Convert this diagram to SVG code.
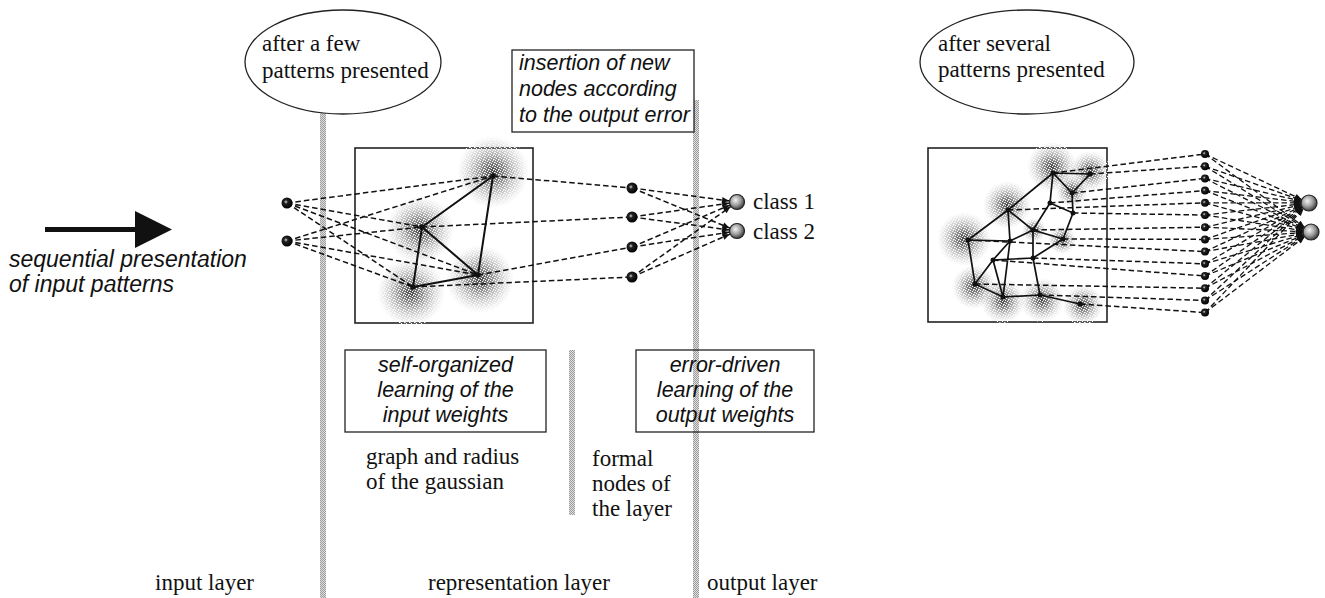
<svg xmlns="http://www.w3.org/2000/svg" width="1325" height="598" viewBox="0 0 1325 598">
<defs>
<style>
.serif{font-family:"Liberation Serif","Times New Roman",serif;font-size:23px;fill:#111}
.it{font-family:"Liberation Sans",Arial,sans-serif;font-style:italic;font-size:21.5px;fill:#111}
.box{fill:#fff;stroke:#222;stroke-width:1.3}
.frame{fill:none;stroke:#222;stroke-width:1.6}
.ell{fill:#fff;stroke:#222;stroke-width:1.3}
.dash{stroke:#111;stroke-width:1.5;stroke-dasharray:5.5 3;fill:none}
.arr{marker-end:url(#ah)}
.edge{stroke:#111;stroke-width:2;fill:none}
.bar{fill:url(#stip)}
.cloud{fill:url(#gauss)}
.speck{fill:url(#speck)}
.dot{fill:url(#ball)}
.out{fill:url(#oball);stroke:#222;stroke-width:1.2}
</style>
<pattern id="stip" width="2" height="2" patternUnits="userSpaceOnUse">
<rect width="2" height="2" fill="#dedede"/><rect width="1" height="1" fill="#9c9c9c"/><rect x="1" y="1" width="1" height="1" fill="#9c9c9c"/>
</pattern>
<pattern id="speck" width="5" height="5" patternUnits="userSpaceOnUse">
<rect x="0" y="0" width="1" height="1" fill="#fff"/><rect x="2" y="1" width="1" height="1" fill="#fff"/><rect x="4" y="2" width="1" height="1" fill="#fff"/><rect x="1" y="3" width="1" height="1" fill="#fff"/><rect x="3" y="4" width="1" height="1" fill="#fff"/>
<rect x="3" y="0" width="1" height="1" fill="#fff" fill-opacity="0.6"/><rect x="0" y="2" width="1" height="1" fill="#fff" fill-opacity="0.6"/><rect x="4" y="4" width="1" height="1" fill="#fff" fill-opacity="0.6"/>
</pattern>
<radialGradient id="gauss">
<stop offset="0" stop-color="#333" stop-opacity="0.9"/>
<stop offset="0.3" stop-color="#555" stop-opacity="0.7"/>
<stop offset="0.65" stop-color="#888" stop-opacity="0.38"/>
<stop offset="1" stop-color="#aaa" stop-opacity="0"/>
</radialGradient>
<radialGradient id="ball" cx="0.4" cy="0.4" r="0.6">
<stop offset="0" stop-color="#ddd"/>
<stop offset="0.3" stop-color="#222"/>
<stop offset="1" stop-color="#000"/>
</radialGradient>
<radialGradient id="oball" cx="0.4" cy="0.38" r="0.65">
<stop offset="0" stop-color="#f4f4f4"/>
<stop offset="0.55" stop-color="#9a9a9a"/>
<stop offset="1" stop-color="#333"/>
</radialGradient>
<marker id="ah" markerUnits="userSpaceOnUse" markerWidth="20" markerHeight="10" refX="15" refY="3" orient="auto" overflow="visible">
<path d="M0,0 L7,3 L0,6 z" fill="#111"/>
</marker>
</defs>

<rect width="1325" height="598" fill="#fff"/>

<!-- layer separators -->
<g id="separators">
<rect class="bar" x="320" y="100" width="6" height="498"/>
<rect class="bar" x="569" y="350" width="6" height="165"/>
<rect class="bar" x="693" y="100" width="6" height="498"/>
</g>

<g id="ellipse-few">
<ellipse class="ell" cx="343" cy="62" rx="98" ry="52"/>
<text class="serif" x="262" y="51">after a few</text>
<text class="serif" x="262" y="78">patterns presented</text>
</g>

<g id="ellipse-several">
<ellipse class="ell" cx="1027" cy="62" rx="107" ry="52"/>
<text class="serif" x="938" y="51">after several</text>
<text class="serif" x="938" y="77">patterns presented</text>
</g>

<g id="insertion-note">
<rect class="box" x="512" y="50" width="182" height="82"/>
<text class="it" x="519" y="70">insertion of new</text>
<text class="it" x="519" y="96">nodes according</text>
<text class="it" x="519" y="122">to the output error</text>
</g>

<g id="input-arrow">
<rect x="45" y="227" width="92" height="5" fill="#111"/>
<path d="M135,211 L172,229.5 L135,248 z" fill="#111"/>
<text class="it" x="9" y="267" style="font-size:23px">sequential presentation</text>
<text class="it" x="9" y="292" style="font-size:23px">of input patterns</text>
</g>

<!-- left network -->
<g id="gaussian-graph">
<rect class="frame" x="355" y="148" width="178" height="175"/>
<g>
<circle class="cloud" cx="493" cy="172" r="36"/><circle class="speck" cx="493" cy="172" r="36"/>
<circle class="cloud" cx="420" cy="230" r="34"/><circle class="speck" cx="420" cy="230" r="34"/>
<circle class="cloud" cx="480" cy="279" r="34"/><circle class="speck" cx="480" cy="279" r="34"/>
<circle class="cloud" cx="411" cy="292" r="34"/><circle class="speck" cx="411" cy="292" r="34"/>
</g>
<path class="edge" d="M493,176 L422,227 L478,275 Z M493,176 L478,275 M422,227 L413,287 L478,275"/>
<circle cx="493" cy="176" r="2.8" fill="#111"/>
<circle cx="422" cy="227" r="2.8" fill="#111"/>
<circle cx="478" cy="275" r="2.8" fill="#111"/>
<circle cx="413" cy="287" r="2.8" fill="#111"/>
</g>

<g id="connectors-left">
<path class="dash" d="M287,203 L493,176 M287,203 L422,227 M287,203 L478,275 M287,203 L413,287 M287,241 L493,176 M287,241 L422,227 M287,241 L478,275 M287,241 L413,287"/>
<path class="dash" d="M493,176 L632,188 M422,227 L632,217 M478,275 L632,247 M413,287 L632,277"/>
<g class="dash arr">
<line x1="632" y1="188" x2="737" y2="202"/><line x1="632" y1="188" x2="737" y2="231"/>
<line x1="632" y1="217" x2="737" y2="202"/><line x1="632" y1="217" x2="737" y2="231"/>
<line x1="632" y1="247" x2="737" y2="202"/><line x1="632" y1="247" x2="737" y2="231"/>
<line x1="632" y1="277" x2="737" y2="202"/><line x1="632" y1="277" x2="737" y2="231"/>
</g>
</g>

<g id="input-nodes">
<circle class="dot" cx="287" cy="203" r="5.5"/>
<circle class="dot" cx="287" cy="241" r="5.5"/>
</g>

<g id="formal-nodes">
<circle class="dot" cx="632" cy="188" r="5.5"/>
<circle class="dot" cx="632" cy="217" r="5.5"/>
<circle class="dot" cx="632" cy="247" r="5.5"/>
<circle class="dot" cx="632" cy="277" r="5.5"/>
</g>

<g id="output-nodes">
<circle class="out" cx="737" cy="202" r="7.5"/>
<circle class="out" cx="737" cy="231" r="7.5"/>
<text class="serif" x="753" y="209">class 1</text>
<text class="serif" x="753" y="239">class 2</text>
</g>

<g id="note-self-organized">
<rect class="box" x="345" y="350" width="201" height="82"/>
<text class="it" x="445.5" y="372" text-anchor="middle">self-organized</text>
<text class="it" x="445.5" y="397" text-anchor="middle">learning of the</text>
<text class="it" x="445.5" y="422" text-anchor="middle">input weights</text>
</g>

<g id="note-error-driven">
<rect class="box" x="636" y="350" width="178" height="82" style="fill:none"/>
<text class="it" x="725" y="372" text-anchor="middle">error-driven</text>
<text class="it" x="725" y="397" text-anchor="middle">learning of the</text>
<text class="it" x="725" y="422" text-anchor="middle">output weights</text>
</g>

<g id="labels">
<text class="serif" x="366" y="464">graph and radius</text>
<text class="serif" x="366" y="489">of the gaussian</text>
<text class="serif" x="592" y="466">formal</text>
<text class="serif" x="592" y="491">nodes of</text>
<text class="serif" x="592" y="516">the layer</text>
<text class="serif" x="155" y="590">input layer</text>
<text class="serif" x="428" y="590">representation layer</text>
<text class="serif" x="707" y="590">output layer</text>
</g>

<!-- right network -->
<g id="grown-graph">
<rect class="frame" x="928" y="148" width="179" height="174"/>
<g>
<circle class="cloud" cx="1052" cy="167" r="25"/><circle class="speck" cx="1052" cy="167" r="25"/>
<circle class="cloud" cx="1090" cy="171" r="20"/><circle class="speck" cx="1090" cy="171" r="20"/>
<circle class="cloud" cx="1072" cy="191" r="16"/><circle class="speck" cx="1072" cy="191" r="16"/>
<circle class="cloud" cx="1007" cy="205" r="24"/><circle class="speck" cx="1007" cy="205" r="24"/>
<circle class="cloud" cx="964" cy="239" r="27"/><circle class="speck" cx="964" cy="239" r="27"/>
<circle class="cloud" cx="974" cy="287" r="22"/><circle class="speck" cx="974" cy="287" r="22"/>
<circle class="cloud" cx="1003" cy="301" r="22"/><circle class="speck" cx="1003" cy="301" r="22"/>
<circle class="cloud" cx="1042" cy="300" r="22"/><circle class="speck" cx="1042" cy="300" r="22"/>
<circle class="cloud" cx="1083" cy="305" r="20"/><circle class="speck" cx="1083" cy="305" r="20"/>
<circle class="cloud" cx="1062" cy="240" r="14"/><circle class="speck" cx="1062" cy="240" r="14"/>
<circle class="cloud" cx="1034" cy="230" r="12"/><circle class="speck" cx="1034" cy="230" r="12"/>
</g>
<path class="edge" style="stroke-width:1.7" d="M1053,173 L1090,174 L1072,193 L1053,173 L1050,203 L1073,213 L1072,193 M1053,173 L1008,210 L968,240 L1010,241 L1008,210 L1033,230 L1010,241 M1050,203 L1033,230 L1063,239 L1073,213 M1033,230 L1033,258 L1063,239 M1010,241 L993,260 L1033,258 M1010,241 L1003,297 M993,260 L1003,297 M993,260 L975,284 L968,240 M975,284 L1003,297 L1040,295 L1080,304 M1033,258 L1040,295"/>
</g>

<g id="connectors-right">
<path class="dash" d="M1053,173 L1205,154 M1090,174 L1205,166.2 M1072,193 L1205,178.4 M1050,203 L1205,190.6 M1008,210 L1205,202.8 M1073,213 L1205,215 M1033,230 L1205,227.2 M1063,239 L1205,239.4 M968,240 L1205,251.6 M1033,258 L1205,263.8 M993,260 L1205,276 M975,284 L1205,288.2 M1040,295 L1205,300.4 M1080,304 L1205,312.6"/>
<g class="dash arr" style="stroke-width:1.3">
<line x1="1205" y1="154" x2="1309" y2="203"/><line x1="1205" y1="154" x2="1311" y2="232"/>
<line x1="1205" y1="166.2" x2="1309" y2="203"/><line x1="1205" y1="166.2" x2="1311" y2="232"/>
<line x1="1205" y1="178.4" x2="1309" y2="203"/><line x1="1205" y1="178.4" x2="1311" y2="232"/>
<line x1="1205" y1="190.6" x2="1309" y2="203"/><line x1="1205" y1="190.6" x2="1311" y2="232"/>
<line x1="1205" y1="202.8" x2="1309" y2="203"/><line x1="1205" y1="202.8" x2="1311" y2="232"/>
<line x1="1205" y1="215" x2="1309" y2="203"/><line x1="1205" y1="215" x2="1311" y2="232"/>
<line x1="1205" y1="227.2" x2="1309" y2="203"/><line x1="1205" y1="227.2" x2="1311" y2="232"/>
<line x1="1205" y1="239.4" x2="1309" y2="203"/><line x1="1205" y1="239.4" x2="1311" y2="232"/>
<line x1="1205" y1="251.6" x2="1309" y2="203"/><line x1="1205" y1="251.6" x2="1311" y2="232"/>
<line x1="1205" y1="263.8" x2="1309" y2="203"/><line x1="1205" y1="263.8" x2="1311" y2="232"/>
<line x1="1205" y1="276" x2="1309" y2="203"/><line x1="1205" y1="276" x2="1311" y2="232"/>
<line x1="1205" y1="288.2" x2="1309" y2="203"/><line x1="1205" y1="288.2" x2="1311" y2="232"/>
<line x1="1205" y1="300.4" x2="1309" y2="203"/><line x1="1205" y1="300.4" x2="1311" y2="232"/>
<line x1="1205" y1="312.6" x2="1309" y2="203"/><line x1="1205" y1="312.6" x2="1311" y2="232"/>
</g>
</g>

<g id="grown-graph-nodes" fill="#111">
<circle cx="1053" cy="173" r="2.5"/><circle cx="1090" cy="174" r="2.5"/><circle cx="1072" cy="193" r="2.5"/>
<circle cx="1050" cy="203" r="2.5"/><circle cx="1073" cy="213" r="2.5"/><circle cx="1008" cy="210" r="2.5"/>
<circle cx="1033" cy="230" r="2.5"/><circle cx="1063" cy="239" r="2.5"/><circle cx="968" cy="240" r="2.5"/>
<circle cx="1010" cy="241" r="2.5"/><circle cx="993" cy="260" r="2.5"/><circle cx="1033" cy="258" r="2.5"/>
<circle cx="975" cy="284" r="2.5"/><circle cx="1003" cy="297" r="2.5"/><circle cx="1040" cy="295" r="2.5"/>
<circle cx="1080" cy="304" r="2.5"/>
</g>

<g id="grown-formal-nodes">
<circle class="dot" cx="1205" cy="154" r="4"/><circle class="dot" cx="1205" cy="166.2" r="4"/>
<circle class="dot" cx="1205" cy="178.4" r="4"/><circle class="dot" cx="1205" cy="190.6" r="4"/>
<circle class="dot" cx="1205" cy="202.8" r="4"/><circle class="dot" cx="1205" cy="215" r="4"/>
<circle class="dot" cx="1205" cy="227.2" r="4"/><circle class="dot" cx="1205" cy="239.4" r="4"/>
<circle class="dot" cx="1205" cy="251.6" r="4"/><circle class="dot" cx="1205" cy="263.8" r="4"/>
<circle class="dot" cx="1205" cy="276" r="4"/><circle class="dot" cx="1205" cy="288.2" r="4"/>
<circle class="dot" cx="1205" cy="300.4" r="4"/><circle class="dot" cx="1205" cy="312.6" r="4"/>
</g>

<g id="grown-output-nodes">
<circle class="out" cx="1309" cy="203" r="8"/>
<circle class="out" cx="1311" cy="232" r="8"/>
</g>
</svg>
